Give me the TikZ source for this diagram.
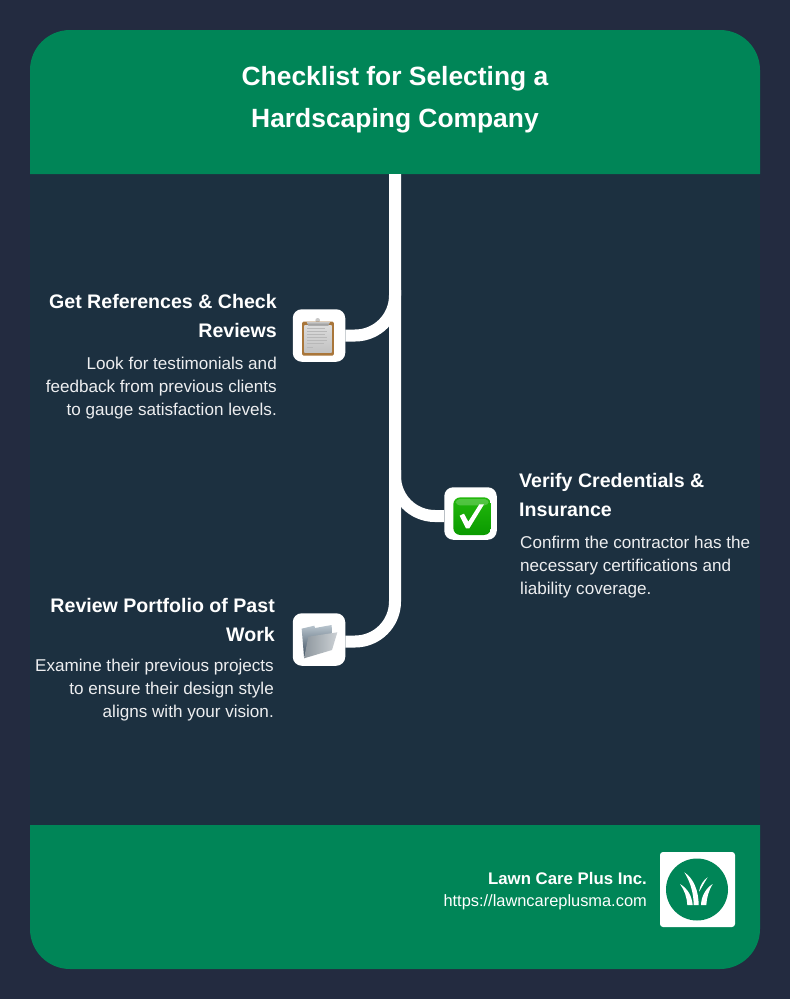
\documentclass[tikz,border=0pt]{standalone}
\usepackage{fontspec}
\setmainfont{Liberation Sans}
\definecolor{pagebg}{HTML}{232B40}
\definecolor{panelbg}{HTML}{1C3040}
\definecolor{brand}{HTML}{008557}
\definecolor{boardbrown}{HTML}{A9763A}
\definecolor{okhi}{HTML}{22B80C}
\definecolor{oklo}{HTML}{0A9A00}
\definecolor{folddark}{HTML}{3F5060}
\definecolor{foldlight}{HTML}{B9C5CE}
\definecolor{frontdark}{HTML}{8E979E}
\definecolor{frontlight}{HTML}{CCD1D5}
\tikzset{
  conn/.style={draw=white,line width=12pt,rounded corners=40pt},
  iconbox/.style={fill=white,rounded corners=9pt,minimum width=52.5pt,minimum height=52.5pt,inner sep=0pt},
  titletext/.style={text=white,align=center,font=\fontsize{26.4}{42}\selectfont\bfseries,inner sep=0pt},
  headl/.style={text=white,align=right,font=\fontsize{19.6}{29}\selectfont\bfseries,inner sep=0pt},
  bodyl/.style={text=white!92!panelbg,align=right,font=\fontsize{17.1}{23}\selectfont,inner sep=0pt},
  headr/.style={headl,align=left},
  bodyr/.style={bodyl,align=left},
}
\begin{document}
\begin{tikzpicture}[x=1pt,y=-1pt]
\useasboundingbox (0,0) rectangle (790,999);
\fill[pagebg] (0,0) rectangle (790,999);
\fill[panelbg] (30,174) rectangle (760,825);
\fill[brand,rounded corners=40pt] (30,174) -- (30,30) -- (760,30) -- (760,174);
\fill[brand,rounded corners=40pt] (30,825) -- (30,969) -- (760,969) -- (760,825);
\node[titletext] (title) at (395,100) {Checklist for Selecting a\\Hardscaping Company};

\node[iconbox] (icon1) at (319,335.5) {};
\node[iconbox] (icon2) at (470.5,513.5) {};
\node[iconbox] (icon3) at (319,639.5) {};
\coordinate (trunktop) at (395,174);
\coordinate (j1) at (395,290);
\coordinate (j2) at (395,470);
\draw[conn] (trunktop) |- ([yshift=-2pt]icon3.east);
\draw[conn] (j1) |- (icon1.east);
\draw[conn] (j2) |- ([yshift=-2.5pt]icon2.west);

% clipboard
\begin{scope}[shift={(280,290)},x=.3333pt,y=-.3333pt]
\fill[black!22] (113,91) circle (7);
\fill[boardbrown,rounded corners=1.5pt] (66,95) rectangle (162,197);
\shade[top color=white!86!black,bottom color=white!76!black] (73,106) rectangle (155,189);
\shade[top color=black!22,bottom color=black!48] (80,96) -- (150,96) -- (145,107) -- (85,107) -- cycle;
\foreach \y/\w in {115/135,124/140,133/135,142/142,151/140,160/132,172/100}
  \draw[black!28,line width=.7pt] (82,\y) -- (\w,\y);
\end{scope}
% check mark
\begin{scope}[shift={(385,470)},x=.3333pt,y=-.3333pt]
\shade[top color=okhi,bottom color=oklo,rounded corners=7pt] (205,82) rectangle (318,195);
\fill[white,rounded corners=4pt,opacity=.22] (212,87) rectangle (311,106);
\fill[white] (224,137) -- (237,131) -- (250,155) -- (283,103) -- (297,103) -- (253,175) -- (243,175) -- cycle;
\end{scope}
% folder
\begin{scope}[shift={(280,590)},x=.3333pt,y=-.3333pt]
\shade[top color=foldlight,bottom color=folddark] (65,116) -- (103,107) -- (105,114) -- (155,105) -- (156,132) -- (72,200) -- cycle;
\shade[left color=frontdark,right color=frontlight] (85,140) -- (172,127) -- (156,180) -- (72,205) -- cycle;
\end{scope}

\node[headl,anchor=north east] (h1) at (277,294) {Get References \& Check\\Reviews};
\node[bodyl,anchor=north east] (b1) at (277,357) {Look for testimonials and\\feedback from previous clients\\to gauge satisfaction levels.};
\node[headr,anchor=north west] (h2) at (519,473) {Verify Credentials \&\\Insurance};
\node[bodyr,anchor=north west] (b2) at (520,536) {Confirm the contractor has the\\necessary certifications and\\liability coverage.};
\node[headl,anchor=north east] (h3) at (275,598) {Review Portfolio of Past\\Work};
\node[bodyl,anchor=north east] (b3) at (274,659) {Examine their previous projects\\to ensure their design style\\aligns with your vision.};

\node[text=white,anchor=east,inner sep=0pt,font=\fontsize{16.8}{20}\selectfont\bfseries] (co) at (647,878.5) {Lawn Care Plus Inc.};
\node[text=white,anchor=east,inner sep=0pt,font=\fontsize{16.4}{20}\selectfont] (url) at (647,902) {https://lawncareplusma.com};

% logo
\node[fill=white,rounded corners=3pt,minimum width=75pt,minimum height=75pt,inner sep=0pt] (logo) at (697.5,889.5) {};
\node[fill=brand,circle,minimum size=62pt,inner sep=0pt] (logoc) at (697,889.5) {};
\begin{scope}[shift={(640,840)},x=.3333pt,y=-.3333pt]
\fill[white] (120,132) .. controls (144,146) and (156,170) .. (158,195) -- (142,195) .. controls (141,172) and (133,150) .. (120,132) -- cycle;
\fill[white] (133,97) .. controls (163,116) and (176,157) .. (176,195) -- (161,195) .. controls (161,160) and (151,125) .. (133,97) -- cycle;
\fill[white] (203,112) .. controls (190,120) and (180,136) .. (177,155) .. controls (184,146) and (192,128) .. (203,112) -- cycle;
\fill[white] (218,132) .. controls (196,146) and (184,170) .. (183,195) -- (199,195) .. controls (200,172) and (207,150) .. (218,132) -- cycle;
\end{scope}
\end{tikzpicture}
\end{document}
